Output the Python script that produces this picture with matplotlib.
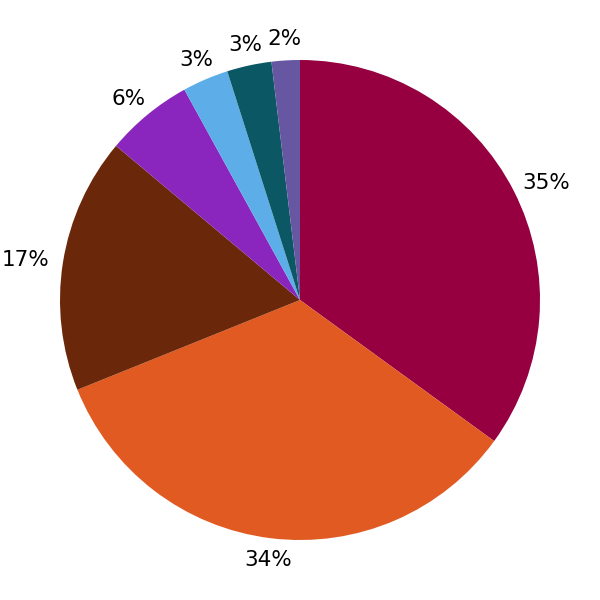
import numpy as np
import matplotlib
matplotlib.use("Agg")
from matplotlib import pyplot as plt

shares = [35.0, 33.9, 17.2, 5.9, 3.1, 3.0, 1.9]
labels = ["35%", "34%", "17%", "6%", "3%", "3%", "2%"]
colors = ["#960040", "#E05A22", "#6B270A", "#8A25BD", "#5DADE8", "#0B5864", "#6757A3"]

fig = plt.figure(figsize=(6, 6), dpi=100)
ax = fig.add_axes([0, 0, 1, 1])

wedges, _ = ax.pie(shares, colors=colors, startangle=90, counterclock=False,
                   radius=1.0, wedgeprops=dict(linewidth=0))

# labels sit just outside the rim, pushed out a bit more left/right
for w, lab in zip(wedges, labels):
    a = np.deg2rad((w.theta1 + w.theta2) / 2)
    x = np.cos(a) * (1.06 + 0.10 * abs(np.cos(a)))
    y = np.sin(a) * (1.06 + 0.03 * abs(np.sin(a)))
    ax.text(x, y, lab, ha="center", va="center", fontsize=15.5, color="black")

ax.set_xlim(-1.25, 1.25)
ax.set_ylim(-1.25, 1.25)
ax.set_aspect("equal")
ax.axis("off")

fig.savefig("out.png")
